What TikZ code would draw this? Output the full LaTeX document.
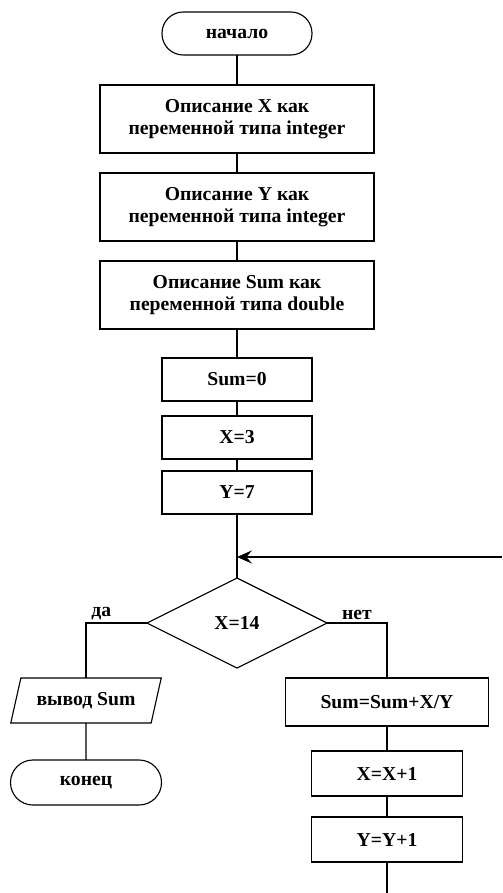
\documentclass[tikz,border=0pt]{standalone}
\usepackage{fontspec}
\setmainfont{Liberation Serif}
\usetikzlibrary{positioning}
\usetikzlibrary{shapes.geometric}
\usetikzlibrary{arrows.meta}

\begin{document}
\begin{tikzpicture}
	[font=\fontsize{14}{16}\selectfont\bfseries, line width=0.8pt,
	 term/.style={rectangle, rounded corners=0.53cm, draw=black, outer sep=0pt, minimum width=3.75cm, minimum height=1.075cm},
	 block/.style={rectangle, draw=black, outer sep=0pt, align=center, minimum width=3.75cm, minimum height=1.075cm},
	 wide/.style={minimum width=6.85cm, minimum height=1.7cm},
	 decision/.style={diamond, draw=black, outer sep=0pt, aspect=2, minimum width=4.5cm, minimum height=2.25cm, inner sep=0pt},
	 io/.style={trapezium, trapezium left angle=72, trapezium right angle=108, trapezium stretches=true, draw=black, outer sep=0pt, minimum width=3.775cm, minimum height=1.125cm}]
	\useasboundingbox (0,0) rectangle (12.55,-22.325);
	\node[term] (start) at (5.925,-0.8375) {начало};
	\node[block, wide, below=0.75cm of start] (declx) {Описание X как\\переменной типа integer};
	\node[block, wide, below=0.5cm of declx] (decly) {Описание Y как\\переменной типа integer};
	\node[block, wide, below=0.5cm of decly] (declsum) {Описание Sum как\\переменной типа double};
	\node[block, below=0.725cm of declsum] (sumzero) {Sum=0};
	\node[block, below=0.375cm of sumzero] (xinit) {X=3};
	\node[block, below=0.3cm of xinit] (yinit) {Y=7};
	\node[decision, below=1.6cm of yinit] (cond) {X=14};
	\coordinate[below=1.075cm of yinit] (join);
	\coordinate (rightedge) at (12.55,0);
	\coordinate (loopin) at (join -| rightedge);
	% da branch
	\node[io] (output) at (2.15,-17.5125) {вывод Sum};
	\node[term, minimum width=3.775cm, minimum height=1.125cm, rounded corners=0.56cm, below=0.925cm of output] (stop) {конец};
	% net branch
	\node[block, minimum width=5.075cm, minimum height=1.2cm] (sumstep) at (9.675,-17.55) {Sum=Sum+X/Y};
	\node[block, minimum width=3.775cm, minimum height=1.125cm, below=0.625cm of sumstep] (xinc) {X=X+1};
	\node[block, minimum width=3.775cm, minimum height=1.125cm, below=0.525cm of xinc] (yinc) {Y=Y+1};
	\coordinate (loopout) at (9.675,-22.325);
	\draw (start) -- (declx);
	\draw (declx) -- (decly);
	\draw (decly) -- (declsum);
	\draw (declsum) -- (sumzero);
	\draw (sumzero) -- (xinit);
	\draw (xinit) -- (yinit);
	\draw (yinit) -- (cond);
	\draw[-{Stealth[length=3.75mm, width=3.3mm, inset=1.4mm]}] (loopin) -- (join);
	\draw (cond.west) -| (output) node[pos=0.375, above, inner sep=2pt] {да};
	\draw (cond.east) -| (sumstep) node[pos=0.25, above, inner sep=2pt] {нет};
	\draw (output) -- (stop);
	\draw (sumstep) -- (xinc);
	\draw (xinc) -- (yinc);
	\draw (yinc) -- (loopout);
\end{tikzpicture}
\end{document}
